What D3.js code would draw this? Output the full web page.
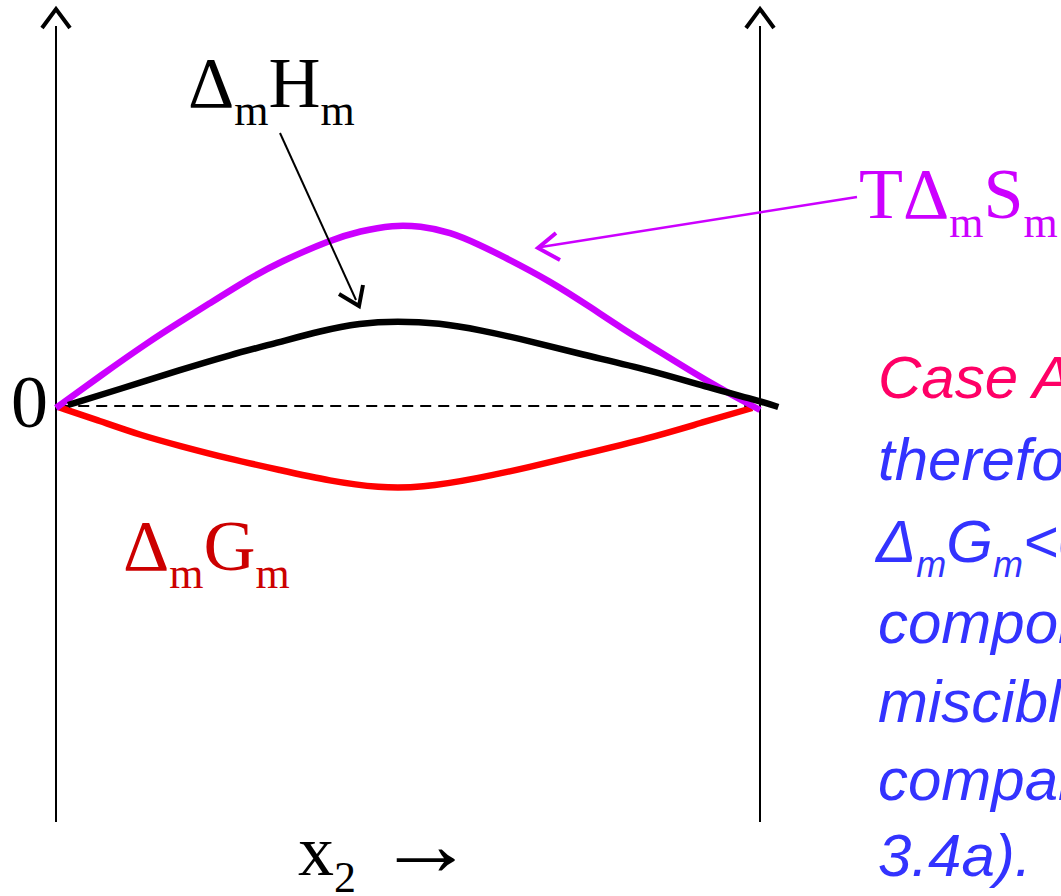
<!DOCTYPE html>
<html>
<head>
<meta charset="utf-8">
<script src="https://cdn.jsdelivr.net/npm/d3@7"></script>
<style>
  html, body { margin: 0; padding: 0; background: #fff; overflow: hidden; }
  svg { display: block; }
</style>
</head>
<body>
<svg id="chart" width="1061" height="896"></svg>
<script>
// ---- data (x = mole fraction x2, y = arbitrary energy units) ----
const xTS = [0, 0.0625, 0.1335, 0.176, 0.2145, 0.2756, 0.318, 0.389, 0.432, 0.479, 0.517, 0.560, 0.602, 0.631, 0.702, 0.763, 0.801, 0.858, 0.929, 1.0];
const yTS = [-0.01, 0.15, 0.325, 0.42, 0.505, 0.64, 0.72, 0.83, 0.875, 0.905, 0.90, 0.87, 0.805, 0.755, 0.625, 0.485, 0.395, 0.27, 0.115, -0.02];

const xH = [0.017, 0.091, 0.176, 0.247, 0.318, 0.375, 0.432, 0.484, 0.545, 0.602, 0.673, 0.744, 0.844, 0.929, 1.0, 1.026];
const yH = [0.005, 0.085, 0.18, 0.255, 0.32, 0.375, 0.415, 0.425, 0.415, 0.38, 0.325, 0.26, 0.18, 0.09, 0.025, -0.005];

const xG = [0.003, 0.0625, 0.119, 0.176, 0.247, 0.318, 0.389, 0.460, 0.517, 0.602, 0.673, 0.744, 0.844, 0.915, 0.989];
const yG = [-0.005, -0.075, -0.145, -0.2, -0.265, -0.32, -0.375, -0.41, -0.41, -0.36, -0.305, -0.245, -0.16, -0.085, -0.01];

const noteLines = ["therefore", "components", "miscible", "compare", "3.4a)."];

// ---- scales ----
const svg = d3.select("#chart");
const x = d3.scaleLinear().domain([0, 1]).range([56, 760]);
const y = d3.scaleLinear().domain([-1, 1]).range([606, 206]);

const serif = "'Liberation Serif', 'Times New Roman', serif";
const sans = "'Liberation Sans', Arial, sans-serif";

// zero dashed line
svg.append("line")
  .attr("x1", x(0.006)).attr("x2", x(0.99))
  .attr("y1", y(0)).attr("y2", y(0))
  .attr("stroke", "#000").attr("stroke-width", 2)
  .attr("stroke-dasharray", "11,7");

// vertical axes with open arrowheads
[0, 1].forEach(v => {
  const cx = x(v);
  svg.append("line")
    .attr("x1", cx).attr("x2", cx).attr("y1", 26).attr("y2", 822)
    .attr("stroke", "#000").attr("stroke-width", 2);
  svg.append("path")
    .attr("d", `M${cx - 14},28 L${cx},9 L${cx + 14},28`)
    .attr("fill", "none").attr("stroke", "#000").attr("stroke-width", 4);
});

// curves
const line = d3.line().x(d => x(d[0])).y(d => y(d[1])).curve(d3.curveBasis);
const series = [
  { xs: xG, ys: yG, color: "#ff0000" },
  { xs: xTS, ys: yTS, color: "#cc00ff" },
  { xs: xH, ys: yH, color: "#000000" }
];
series.forEach(s => {
  svg.append("path")
    .datum(s.xs.map((v, i) => [v, s.ys[i]]))
    .attr("d", line)
    .attr("fill", "none")
    .attr("stroke", s.color)
    .attr("stroke-width", 6.5);
});

// helper for label with subscripts
function label(xp, yp, parts, size, subSize, color, family, italic) {
  const t = svg.append("text")
    .attr("x", xp).attr("y", yp)
    .attr("font-family", family)
    .attr("font-size", size)
    .attr("fill", color)
    .attr("font-style", italic ? "italic" : "normal");
  let sub = false;
  parts.forEach(p => {
    const isSub = p.sub;
    let dy = 0;
    if (isSub && !sub) dy = subSize.dy;
    if (!isSub && sub) dy = -subSize.dy;
    t.append("tspan")
      .attr("dy", dy)
      .attr("font-size", isSub ? subSize.size : size)
      .text(p.t);
    sub = isSub;
  });
  return t;
}

// ΔmHm label
label(188, 107, [{t:"Δ"},{t:"m",sub:true},{t:"H"},{t:"m",sub:true}], 72, {size:44, dy:18}, "#000", serif);
// arrow for ΔmHm
svg.append("line").attr("x1", 280).attr("y1", 133).attr("x2", 356).attr("y2", 300)
  .attr("stroke", "#000").attr("stroke-width", 2);
svg.append("path").attr("d", "M339,294 L359,306 L363,285")
  .attr("fill", "none").attr("stroke", "#000").attr("stroke-width", 4);

// TΔmSm label
label(859, 218, [{t:"TΔ"},{t:"m",sub:true},{t:"S"},{t:"m",sub:true}], 72, {size:44, dy:19}, "#cc00ff", serif);
svg.append("line").attr("x1", 857).attr("y1", 197).attr("x2", 541).attr("y2", 247)
  .attr("stroke", "#cc00ff").attr("stroke-width", 2.5);
svg.append("path").attr("d", "M556,233 L538,248 L560,260")
  .attr("fill", "none").attr("stroke", "#cc00ff").attr("stroke-width", 4);

// 0 label
svg.append("text").attr("x", 11).attr("y", 427)
  .attr("font-family", serif).attr("font-size", 74).attr("fill", "#000").text("0");

// ΔmGm label
label(123, 570, [{t:"Δ"},{t:"m",sub:true},{t:"G"},{t:"m",sub:true}], 72, {size:44, dy:18}, "#cc0000", serif);

// x2 axis label
label(298, 875, [{t:"x"},{t:"2",sub:true}], 72, {size:44, dy:17}, "#000", serif);
svg.append("text")
  .attr("transform", "translate(377,875) scale(1.36,1.25)")
  .attr("font-family", serif).attr("font-size", 72).attr("fill", "#000")
  .text("→");

// right-hand note
svg.append("text").attr("x", 878).attr("y", 398)
  .attr("font-family", sans).attr("font-style", "italic").attr("font-size", 60)
  .attr("fill", "#ff0066").text("Case A:");
const baselines = [480, 643, 722, 800, 876];
noteLines.forEach((s, i) => {
  svg.append("text").attr("x", 878).attr("y", baselines[i])
    .attr("font-family", sans).attr("font-style", "italic").attr("font-size", 60)
    .attr("fill", "#3333ff").text(s);
});
label(876, 562, [{t:"Δ"},{t:"m",sub:true},{t:"G"},{t:"m",sub:true},{t:"<0"}], 60, {size:36, dy:15}, "#3333ff", sans, true);
</script>
</body>
</html>
